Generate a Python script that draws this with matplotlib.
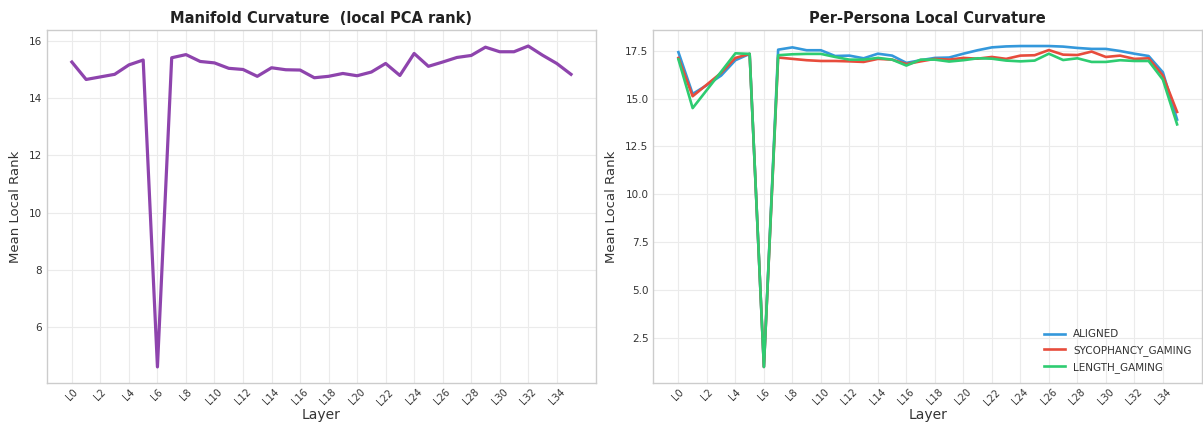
import matplotlib
matplotlib.use("Agg")
import matplotlib.pyplot as plt
import numpy as np

layers = [f"L{i}" for i in range(36)]
tick_labels = [f"L{i}" for i in range(0, 36, 2)]

manifold_rank = [15.27, 14.66, 14.75, 14.84, 15.17, 15.34, 4.60, 15.42, 15.53, 15.29,
                 15.24, 15.05, 15.01, 14.77, 15.07, 15.00, 14.99, 14.72, 14.77, 14.87,
                 14.79, 14.92, 15.22, 14.80, 15.57, 15.12, 15.27, 15.43, 15.50, 15.79,
                 15.63, 15.63, 15.83, 15.51, 15.22, 14.84]

aligned = [17.42, 15.24, 15.70, 16.20, 17.00, 17.33, 0.99, 17.55, 17.67, 17.52,
           17.52, 17.22, 17.24, 17.10, 17.34, 17.24, 16.86, 17.00, 17.12, 17.14,
           17.34, 17.52, 17.67, 17.72, 17.74, 17.74, 17.74, 17.71, 17.64, 17.59,
           17.59, 17.48, 17.34, 17.22, 16.37, 13.90]
sycophancy = [17.12, 15.12, 15.73, 16.34, 17.12, 17.33, 0.99, 17.14, 17.07, 17.00,
              16.96, 16.96, 16.94, 16.91, 17.07, 17.03, 16.80, 16.94, 17.07, 17.03,
              17.12, 17.08, 17.17, 17.07, 17.24, 17.26, 17.53, 17.29, 17.27, 17.45,
              17.17, 17.24, 17.07, 17.10, 16.20, 14.30]
length_gaming = [17.05, 14.50, 15.45, 16.40, 17.36, 17.33, 0.99, 17.26, 17.31, 17.33,
                 17.33, 17.17, 17.03, 17.03, 17.12, 17.03, 16.72, 17.03, 17.03, 16.93,
                 17.00, 17.10, 17.08, 16.98, 16.94, 16.98, 17.34, 17.01, 17.10, 16.91,
                 16.91, 17.00, 16.96, 16.96, 15.99, 13.65]

series_names = ["ALIGNED", "SYCOPHANCY_GAMING", "LENGTH_GAMING"]
series_values = [aligned, sycophancy, length_gaming]
series_colors = ["#3498db", "#e74c3c", "#2ecc71"]

plt.rcParams['font.family'] = ['DejaVu Sans']

fig = plt.figure(figsize=(12.03, 4.26), dpi=100)
ax1 = fig.add_axes([0.039, 0.101, 0.4564, 0.8286])
ax2 = fig.add_axes([0.5432, 0.101, 0.4560, 0.8286])

x = np.arange(len(layers))
tick_pos = np.arange(0, 36, 2)

def style(ax):
    ax.set_facecolor("white")
    ax.grid(True, color="#ebebeb", linewidth=0.8)
    ax.set_axisbelow(True)
    for s in ax.spines.values():
        s.set_color("#cccccc")
        s.set_linewidth(1.0)
    ax.set_xticks(tick_pos)
    ax.set_xticklabels(tick_labels, rotation=45, fontsize=7, color="#333333")
    ax.tick_params(axis="y", labelsize=7.5, colors="#333333", length=0, pad=3.6)
    ax.tick_params(axis="x", length=0, pad=3)
    ax.set_xlabel("Layer", fontsize=10, color="#333333", labelpad=1)
    ax.set_ylabel("Mean Local Rank", fontsize=9.5, color="#333333", labelpad=5)

ax1.plot(x, manifold_rank, color="#8e44ad", linewidth=2.3)
style(ax1)
ax1.set_title("Manifold Curvature  (local PCA rank)", fontsize=10.5, fontweight="bold",
              color="#222222", pad=5)

for name, vals, c in zip(series_names, series_values, series_colors):
    ax2.plot(x, vals, color=c, linewidth=1.9, label=name)
style(ax2)
ax2.set_yticks([2.5, 5.0, 7.5, 10.0, 12.5, 15.0, 17.5])
ax2.set_title("Per-Persona Local Curvature", fontsize=10.5, fontweight="bold",
              color="#222222", pad=5)
leg = ax2.legend(loc="lower right", frameon=False, fontsize=7.5, labelspacing=0.55,
                 borderaxespad=0.6)
for t in leg.get_texts():
    t.set_color("#333333")

fig.savefig("out.png", dpi=100, facecolor="white")
